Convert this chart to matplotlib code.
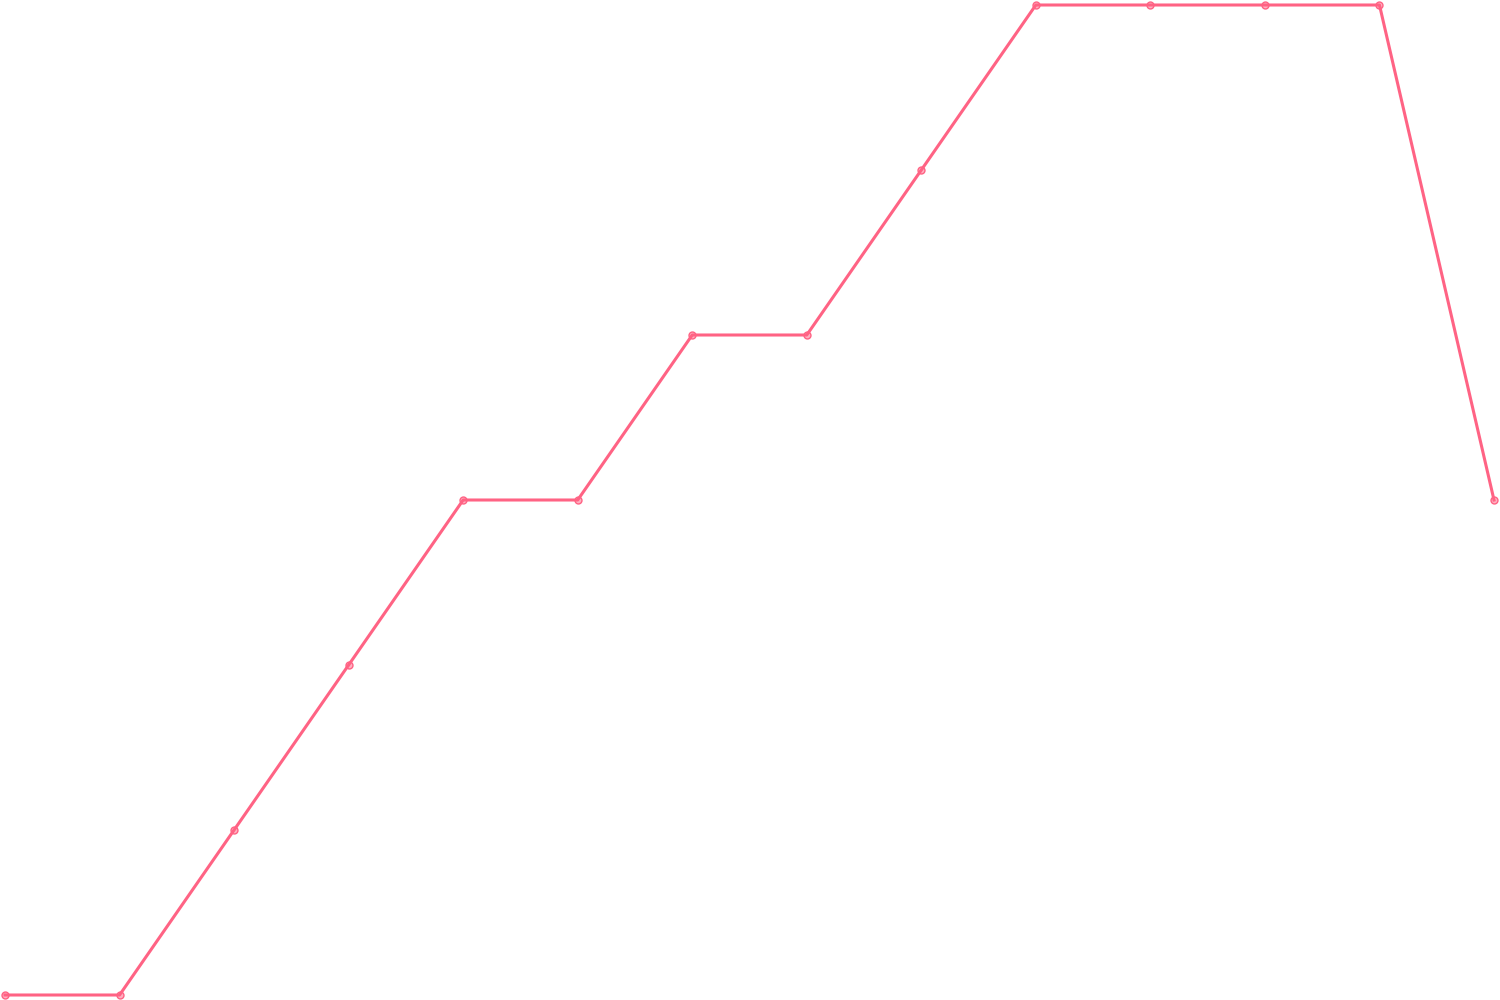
import matplotlib
matplotlib.use("Agg")
import matplotlib.pyplot as plt

etapes = list(range(14))
valeurs = [0, 0, 1, 2, 3, 3, 4, 4, 5, 6, 6, 6, 6, 3]

fig = plt.figure(figsize=(15, 10), dpi=100)
ax = fig.add_axes([5 / 1500, 5 / 1000, 1489 / 1500, 990 / 1000])
ax.plot(etapes, valeurs, color="#ff6384", linewidth=2.2,
        marker="o", markersize=5, markerfacecolor=(1, 0.39, 0.52, 0.5),
        markeredgecolor="#ff6384", markeredgewidth=1, clip_on=False)
ax.set_xlim(0, 13)
ax.set_ylim(0, 6)
ax.axis("off")
fig.savefig("out.png", dpi=100)
